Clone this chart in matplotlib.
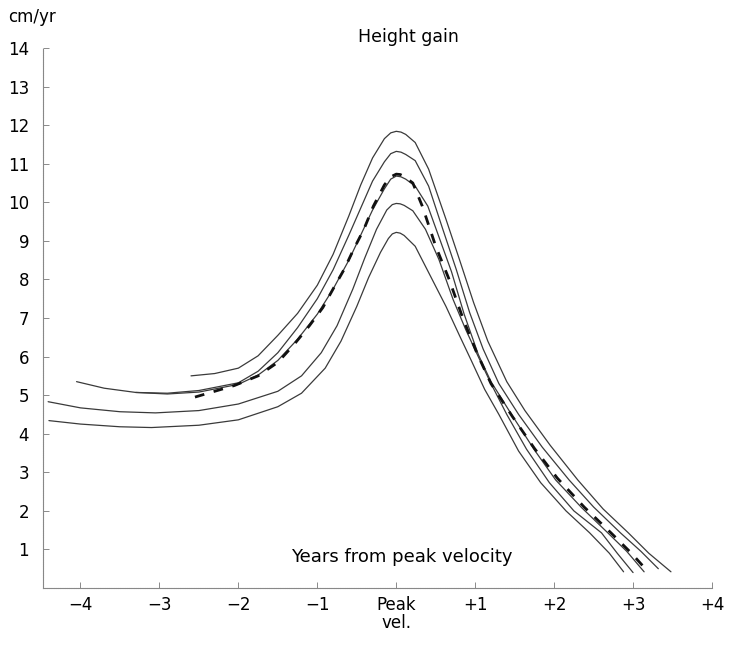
import matplotlib
matplotlib.use("Agg")
import matplotlib.pyplot as plt

plt.rcParams['font.family'] = ['DejaVu Sans']

# Individual height-velocity curves (cm/yr) aligned on year of peak velocity
a_x = [-2.60, -2.30, -2.00, -1.75, -1.50, -1.25, -1.00, -0.80, -0.60, -0.45, -0.30, -0.15, -0.07,
       0.00, 0.06, 0.12, 0.24, 0.41, 0.63, 0.80, 0.98, 1.16, 1.40, 1.63, 1.95, 2.30, 2.62, 2.94, 3.20, 3.48]
a_y = [5.50, 5.56, 5.70, 6.02, 6.55, 7.12, 7.85, 8.65, 9.65, 10.45, 11.15, 11.65, 11.80,
       11.84, 11.82, 11.76, 11.55, 10.86, 9.56, 8.52, 7.40, 6.40, 5.35, 4.60, 3.70, 2.80, 2.05, 1.43, 0.90, 0.42]

b_x = [-4.05, -3.70, -3.30, -2.90, -2.50, -2.00, -1.75, -1.50, -1.25, -1.00, -0.80, -0.60, -0.45,
       -0.30, -0.15, -0.07, 0.00, 0.06, 0.12, 0.24, 0.41, 0.59, 0.76, 0.93, 1.10, 1.30, 1.55, 1.85,
       2.19, 2.50, 2.84, 3.10, 3.32]
b_y = [5.35, 5.18, 5.07, 5.05, 5.12, 5.32, 5.62, 6.10, 6.75, 7.50, 8.25, 9.15, 9.85,
       10.55, 11.05, 11.26, 11.32, 11.30, 11.24, 11.08, 10.42, 9.30, 8.26, 7.14, 6.20, 5.30, 4.50, 3.65,
       2.80, 2.10, 1.43, 0.95, 0.50]

c_x = [-3.30, -2.90, -2.50, -2.00, -1.75, -1.50, -1.25, -1.00, -0.80, -0.60, -0.45, -0.30, -0.15,
       -0.07, 0.00, 0.06, 0.12, 0.24, 0.40, 0.55, 0.70, 0.86, 1.04, 1.20, 1.46, 1.75, 2.02, 2.35, 2.68,
       2.92, 3.14]
c_y = [5.07, 5.03, 5.08, 5.28, 5.52, 5.90, 6.45, 7.10, 7.75, 8.50, 9.15, 9.80, 10.35,
       10.60, 10.68, 10.66, 10.60, 10.42, 9.90, 9.05, 8.20, 7.10, 6.05, 5.35, 4.50, 3.58, 2.80, 2.08, 1.43,
       0.95, 0.42]

d_x = [-4.41, -4.00, -3.50, -3.05, -2.50, -2.00, -1.50, -1.20, -0.95, -0.75, -0.55, -0.40, -0.25,
       -0.12, -0.05, 0.00, 0.05, 0.10, 0.21, 0.37, 0.54, 0.72, 0.88, 1.05, 1.20, 1.40, 1.65, 1.94,
       2.25, 2.60, 2.80, 3.00]
d_y = [4.83, 4.67, 4.57, 4.54, 4.60, 4.77, 5.10, 5.50, 6.10, 6.80, 7.75, 8.55, 9.30,
       9.80, 9.94, 9.97, 9.96, 9.92, 9.78, 9.30, 8.52, 7.48, 6.70, 5.95, 5.30, 4.50, 3.60, 2.73,
       2.00, 1.43, 0.90, 0.40]

e_x = [-4.40, -4.00, -3.50, -3.10, -2.50, -2.00, -1.50, -1.20, -0.90, -0.70, -0.50, -0.35, -0.20,
       -0.10, -0.05, 0.00, 0.05, 0.10, 0.24, 0.41, 0.63, 0.80, 0.95, 1.12, 1.30, 1.55, 1.83, 2.15,
       2.45, 2.70, 2.88]
e_y = [4.34, 4.25, 4.18, 4.16, 4.22, 4.36, 4.70, 5.05, 5.70, 6.40, 7.30, 8.05, 8.70,
       9.06, 9.18, 9.22, 9.20, 9.14, 8.86, 8.18, 7.30, 6.55, 5.90, 5.15, 4.50, 3.55, 2.73, 2.00,
       1.43, 0.90, 0.42]

# Mean curve (dashed)
mean_x = [-2.55, -2.05, -1.75, -1.50, -1.30, -1.10, -0.93, -0.79, -0.66, -0.54, -0.41, -0.29, -0.15,
          -0.07, 0.00, 0.05, 0.10, 0.21, 0.33, 0.50, 0.67, 0.85, 1.02, 1.20, 1.47, 1.75, 2.04, 2.38,
          2.72, 2.98, 3.20]
mean_y = [4.95, 5.25, 5.50, 5.85, 6.30, 6.80, 7.27, 7.79, 8.26, 8.78, 9.30, 9.90, 10.45,
          10.66, 10.73, 10.72, 10.67, 10.50, 9.90, 8.86, 8.00, 6.96, 6.10, 5.30, 4.45, 3.62, 2.85, 2.10,
          1.43, 0.90, 0.40]

x_ticks = [-4, -3, -2, -1, 0, 1, 2, 3, 4]
x_labels = ["\u22124", "\u22123", "\u22122", "\u22121", "Peak\nvel.", "+1", "+2", "+3", "+4"]
y_ticks = list(range(1, 15))
y_labels = [str(v) for v in y_ticks]

fig = plt.figure(figsize=(7.29, 6.50), dpi=100)
ax = fig.add_axes([43 / 729, 62 / 650, (712 - 43) / 729, (588 - 48) / 650])

line_col = "#3a3a3a"
for xs, ys in [(a_x, a_y), (b_x, b_y), (c_x, c_y), (d_x, d_y), (e_x, e_y)]:
    ax.plot(xs, ys, color=line_col, lw=0.9, solid_capstyle="round", solid_joinstyle="round")

ax.plot(mean_x, mean_y, color="#111111", lw=2.0, dashes=(3.5, 3.5))

ax.set_xlim(-4.475, 4.0)
ax.set_ylim(0, 14)

ax.set_xticks(x_ticks)
ax.set_xticklabels(x_labels, fontsize=12, linespacing=0.95)
ax.set_yticks(y_ticks)
ax.set_yticklabels(y_labels, fontsize=12)
ax.tick_params(axis="both", direction="in", length=4, width=0.6, color="#777777")
ax.tick_params(axis="x", pad=6)
ax.tick_params(axis="y", pad=10)

for side in ("top", "right"):
    ax.spines[side].set_visible(False)
for side in ("left", "bottom"):
    ax.spines[side].set_color("#888888")
    ax.spines[side].set_linewidth(0.8)
    ax.spines[side].set_linestyle((0, (1.2, 0.8)))

fig.text(8 / 729, 1 - 17 / 650, "cm/yr", fontsize=12, ha="left", va="center")
fig.text(408 / 729, 1 - 37 / 650, "Height gain", fontsize=12.5, ha="center", va="center")
fig.text(402 / 729, 1 - 557 / 650, "Years from peak velocity", fontsize=13, ha="center", va="center")

fig.savefig("out.png", dpi=100)
